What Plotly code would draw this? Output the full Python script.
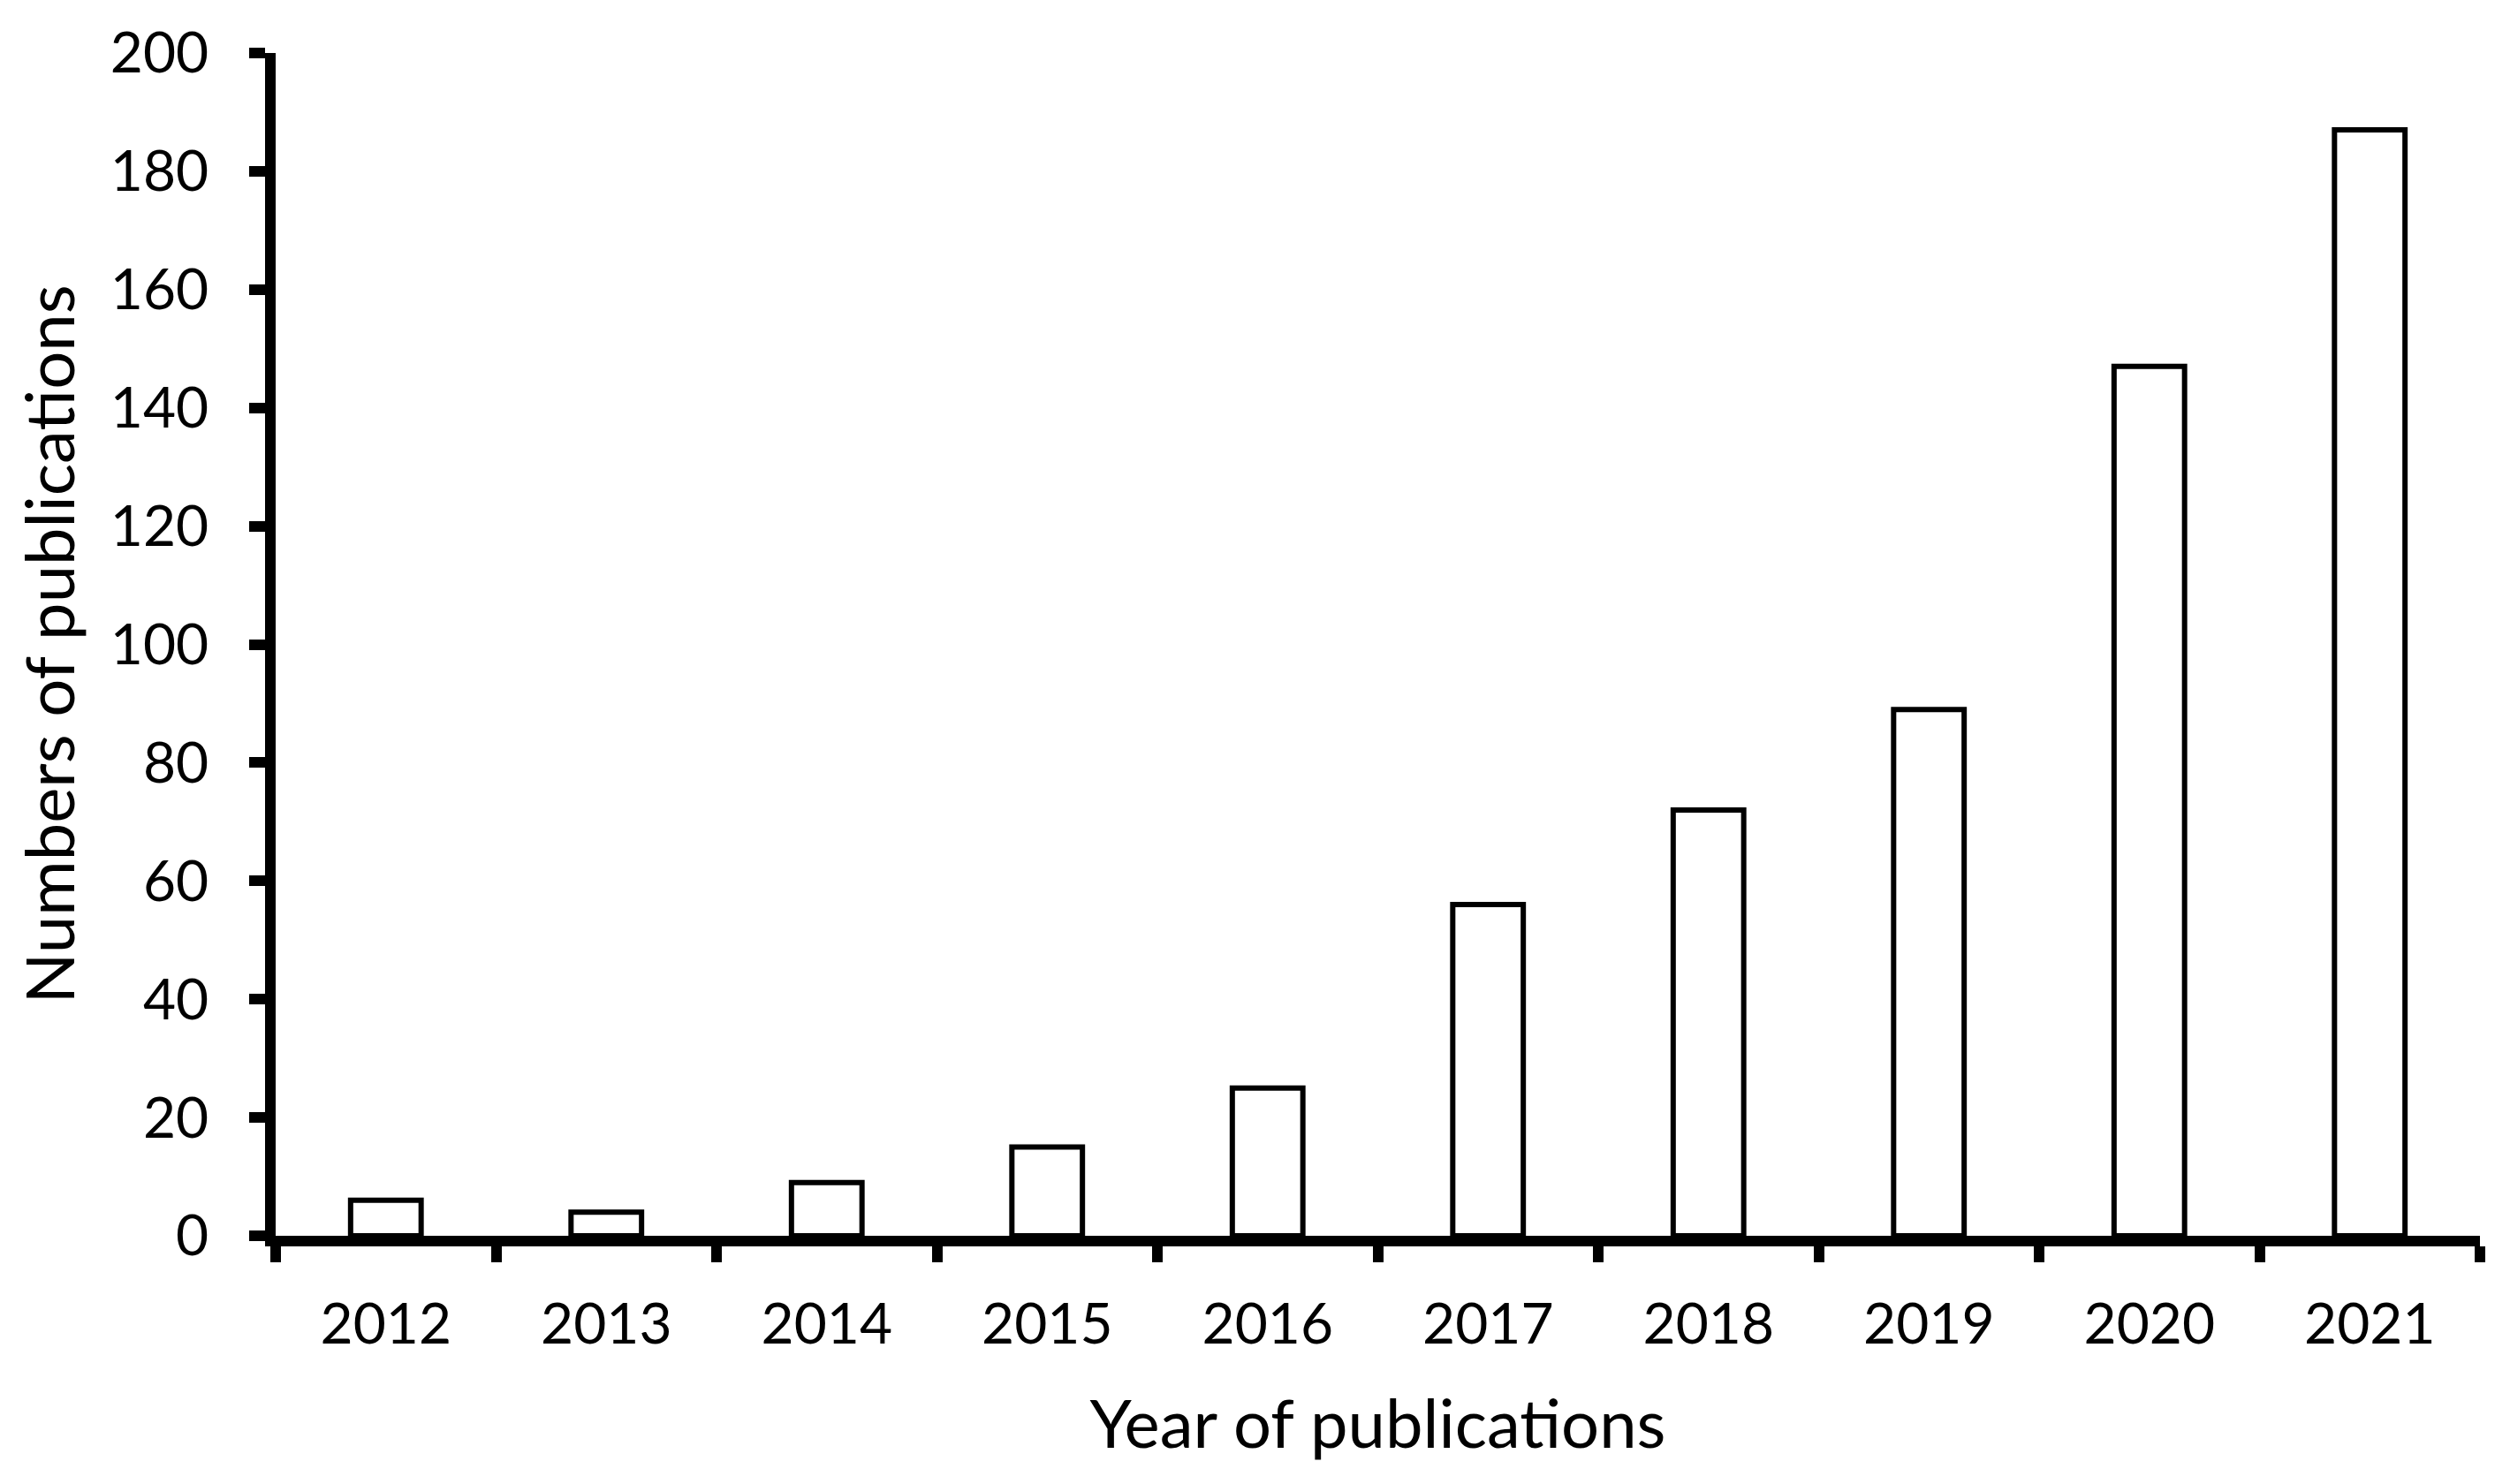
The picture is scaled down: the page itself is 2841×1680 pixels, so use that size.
import plotly.graph_objects as go

years = ["2012", "2013", "2014", "2015", "2016", "2017", "2018", "2019", "2020", "2021"]
publications = [6, 4, 9, 15, 25, 56, 72, 89, 147, 187]
y_ticks = [0, 20, 40, 60, 80, 100, 120, 140, 160, 180, 200]

FONT = "Lato, 'Open Sans', sans-serif"

fig = go.Figure(
    go.Bar(
        x=years,
        y=publications,
        width=0.32,
        marker=dict(color="white", line=dict(color="black", width=6)),
    )
)

fig.update_layout(
    template="none",
    width=2841,
    height=1680,
    paper_bgcolor="white",
    plot_bgcolor="white",
    margin=dict(l=304, r=42, t=52, b=289),
    showlegend=False,
    font=dict(family=FONT, color="black", size=64),
)

fig.update_xaxes(
    type="category",
    range=[-0.5, 9.5],
    automargin=False,
    showline=True,
    linecolor="black",
    linewidth=12,
    ticks="outside",
    tickson="boundaries",
    ticklen=18,
    tickwidth=12,
    tickcolor="black",
    showgrid=False,
    tickfont=dict(size=64),
    ticklabelstandoff=33,
    title=dict(text="Year of publications", font=dict(size=76), standoff=57),
)

fig.update_yaxes(
    range=[0, 200],
    tickvals=y_ticks,
    automargin=False,
    showline=True,
    linecolor="black",
    linewidth=12,
    ticks="outside",
    ticklen=18,
    tickwidth=12,
    tickcolor="black",
    showgrid=False,
    zeroline=False,
    tickfont=dict(size=64),
    ticklabelstandoff=33,
    title=dict(text="Numbers of publications", font=dict(size=76), standoff=20),
)

fig.write_html("out.html")
